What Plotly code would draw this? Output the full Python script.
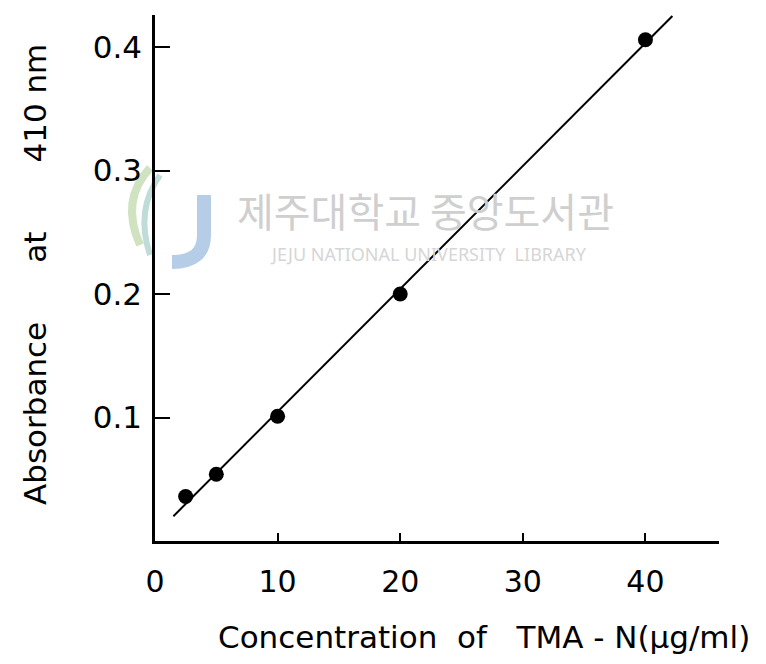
import numpy as np
import plotly.graph_objects as go

# Standard curve: TMA-N concentration vs absorbance at 410 nm
conc = [2.5, 5, 10, 20, 40]                    # µg/ml
absorb = [0.036, 0.054, 0.101, 0.200, 0.406]   # absorbance
fit_span = [1.5, 42.2]                          # extent of the fitted line

x_ticks = [0, 10, 20, 30, 40]
y_ticks = [0.1, 0.2, 0.3, 0.4]
y_tick_text = ["0.1", "0.2", "0.3", "0.4"]

slope, intercept = np.polyfit(conc, absorb, 1)
fit_x = np.array(fit_span)
fit_y = slope * fit_x + intercept

FONT = "DejaVu Sans"
NB = "\u00a0"

fig = go.Figure()
fig.add_trace(go.Scatter(
    x=fit_x, y=fit_y, mode="lines",
    line=dict(color="black", width=2),
    hoverinfo="skip", showlegend=False,
))
fig.add_trace(go.Scatter(
    x=conc, y=absorb, mode="markers",
    marker=dict(color="black", size=15),
    showlegend=False,
))

W, H = 766, 664
L, R, T, B = 155, 47, 15, 123


def px(xp):
    return (xp - L) / (W - L - R)


def py(yp):
    return (H - B - yp) / (H - T - B)


# library watermark
fig.add_annotation(
    x=px(425), y=py(210), xref="paper", yref="paper",
    xanchor="center", yanchor="middle",
    text="제주대학교 중앙도서관", showarrow=False,
    font=dict(family="Noto Sans CJK KR", size=40, color="#cfcfcf"),
)
fig.add_annotation(
    x=px(428), y=py(254), xref="paper", yref="paper",
    xanchor="center", yanchor="middle",
    text="JEJU NATIONAL UNIVERSITY  LIBRARY", showarrow=False,
    font=dict(family="Noto Sans", size=18, color="#d6d6d6"),
)
# logo mark
fig.add_shape(
    type="path", xref="paper", yref="paper", layer="below",
    path=(f"M {px(204)},{py(195)} L {px(204)},{py(235)} "
          f"Q {px(204)},{py(262)} {px(172)},{py(262)}"),
    line=dict(color="#b6cde8", width=14),
)
fig.add_shape(
    type="path", xref="paper", yref="paper", layer="below",
    path=(f"M {px(150)},{py(168)} Q {px(120)},{py(200)} {px(140)},{py(245)}"),
    line=dict(color="#cfe3c0", width=8),
)
fig.add_shape(
    type="path", xref="paper", yref="paper", layer="below",
    path=(f"M {px(160)},{py(175)} Q {px(135)},{py(210)} {px(150)},{py(255)}"),
    line=dict(color="#bfdcd8", width=6),
)

# axis titles
fig.add_annotation(
    x=px(484), y=py(637), xref="paper", yref="paper",
    xanchor="center", yanchor="middle",
    text=f"Concentration{NB*2}of{NB*3}TMA{NB}-{NB}N(μg/ml)", showarrow=False,
    font=dict(family=FONT, size=31, color="black"),
)
fig.add_annotation(
    x=px(35), y=py(275), xref="paper", yref="paper",
    xanchor="center", yanchor="middle",
    text=f"Absorbance{NB*6}at{NB*7}410{NB}nm",
    textangle=-90, showarrow=False,
    font=dict(family=FONT, size=31, color="black"),
)

fig.update_xaxes(
    range=[0, 46], showgrid=False, zeroline=False,
    showline=True, linecolor="black", linewidth=2.5,
    tickmode="array", tickvals=x_ticks, ticktext=[str(v) for v in x_ticks],
    ticks="inside", ticklen=8, tickwidth=2, tickcolor="black",
    ticklabelstandoff=12,
    tickfont=dict(family=FONT, size=30, color="black"),
)
fig.update_yaxes(
    range=[0, 0.426], showgrid=False, zeroline=False,
    showline=True, linecolor="black", linewidth=2.5,
    tickmode="array", tickvals=y_ticks, ticktext=y_tick_text,
    ticks="inside", ticklen=15, tickwidth=2, tickcolor="black",
    ticklabelstandoff=4,
    tickfont=dict(family=FONT, size=31, color="black"),
)
fig.update_layout(
    width=W, height=H,
    margin=dict(l=L, r=R, t=T, b=B),
    paper_bgcolor="white", plot_bgcolor="white",
)

fig.write_html("out.html")
